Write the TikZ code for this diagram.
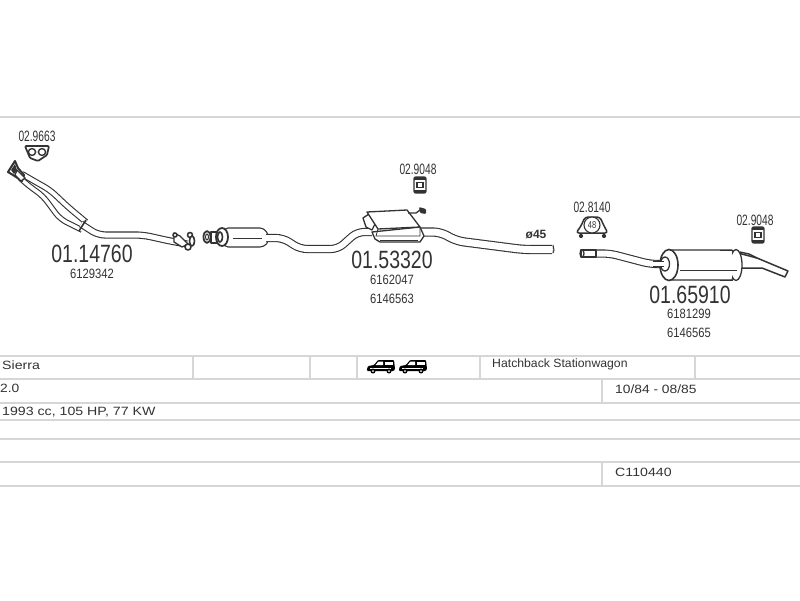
\documentclass[tikz,border=0pt]{standalone}
\usepackage{fontspec}
\setmainfont{Liberation Sans}
\usetikzlibrary{calc}
\definecolor{ink}{gray}{0.2}
\definecolor{rule}{gray}{0.84}
\newcommand{\Tx}[3]{\scalebox{#2}[1]{\fontsize{#1}{#1}\selectfont #3}}
\tikzset{
  x=1pt,y=-1pt,
  tableline/.style={draw=rule,line width=1.9pt},
  pipe/.style={draw=ink,double=white,line width=1.1pt,double distance=#1,rounded corners=7pt},
  pipe/.default=5pt,
  outline/.style={draw=ink,fill=white,line width=1.1pt,line join=round},
  big/.style={text=ink,inner sep=0pt},
  small/.style={text=ink,inner sep=0pt},
  cell/.style={text=ink,inner sep=0pt,anchor=west},
  mount/.pic={
    \draw[draw=ink,fill=white,line width=1.4pt,rounded corners=2pt] (-6,-8) rectangle (6,8);
    \draw[draw=ink,line width=1.3pt] (-3,-2.5) rectangle (3,2.5);
    \fill[ink] (-6,-8) rectangle (6,-5);
    \fill[ink] (-6,5) rectangle (6,8);
  },
  wagon/.pic={
    \fill[black,rounded corners=1pt] (0,9) -- (1,6) -- (7,5) -- (11,0) -- (27,0) -- (28,9) -- (27,11) -- (0,11) -- cycle;
    \fill[white] (11.5,1.5) -- (8.5,5) -- (16,5) -- (16,1.5) -- cycle;
    \fill[white] (17.5,1.5) rectangle (25.5,5);
    \fill[white] (3,7.5) rectangle (24,8.5);
    \fill[black] (6,11) circle (2.5) (22,11) circle (2.5);
    \fill[white] (6,11) circle (1) (22,11) circle (1);
  }
}
\begin{document}
\begin{tikzpicture}
\useasboundingbox (0,0) rectangle (800,600);
\fill[white] (0,0) rectangle (800,600);
% rules
\foreach \y in {117,356,379,403,420,439,462,486} \draw[tableline] (0,\y) -- (800,\y);
\foreach \x in {193,310,357,480,695} \draw[tableline] (\x,356) -- (\x,379);
\draw[tableline] (602,379) -- (602,403);
\draw[tableline] (602,462) -- (602,486);

% --- front pipe
\draw[pipe=3.5pt] (20,178) -- (29,186) -- (43,196) -- (60,219) -- (82,230);
\draw[pipe=4pt] (22,174) -- (34,181) -- (50,190) -- (68,207) -- (86,222);
\draw[pipe=5pt] (81,224) -- (98,235) -- (143,235) -- (170,241) -- (187,244);
\draw[draw=ink,line width=1.6pt,fill=white] (79,231) -- (86,220);
\draw[outline,line width=2pt] (8,172) -- (15,161) -- (18,168) -- (24,175) -- (22,181) -- (13,175) -- cycle;
\fill[ink] (11,170) -- (15,164) -- (17,170) -- (14,174) -- cycle;
\draw[outline,line width=1.3pt] (17,170) -- (25,178) -- (21,181) -- (15,175) -- cycle;
\draw[outline,line width=1.3pt] (174,233) -- (180,236) -- (188,244) -- (182,247) -- (174,242) -- cycle;
\draw[outline,line width=1.6pt] (175,235) circle (2);
\draw[outline,line width=1.6pt] (190,235) circle (2.5);
\draw[outline,line width=1.6pt] (188,247) circle (3);
\draw[outline,line width=1.6pt] (192,241) ellipse[x radius=2.5,y radius=5];

% clamp
\draw[outline,line width=1.7pt,rounded corners=1pt] (25,146) -- (49,146) -- (47,155) -- (38,161) -- (30,158) -- cycle;
\draw[ink,line width=1.4pt,fill=white] (32,152) ellipse[x radius=3.6,y radius=3.4] (42,152) ellipse[x radius=3.6,y radius=3.4];

% --- centre silencer
\draw[outline,line width=1.8pt] (207,237) ellipse[x radius=3.5,y radius=6];
\draw[ink,line width=1pt] (207,237) ellipse[x radius=1.5,y radius=3];
\draw[outline,line width=1.6pt] (211,232) rectangle (220,243);
\draw[outline,rounded corners=4pt] (224,228) -- (264,228) -- (269,236) -- (269,241) -- (264,247) -- (224,247) -- cycle;
\draw[outline,line width=1.8pt] (222,237) ellipse[x radius=6,y radius=9];
\draw[ink,line width=1.6pt] (220,237) ellipse[x radius=2.5,y radius=5];
\draw[ink,line width=.8pt] (233,238) -- (262,238);
\draw[pipe=6pt] (266,238) -- (283,238) -- (300,249) -- (338,249) -- (357,232) -- (372,232);
\draw[pipe=7pt] (420,232) -- (440,232) -- (457,241) -- (523,249.5) -- (552,249.5);
\draw[ink,line width=1pt] (553,245) -- (554,250) -- (553,253);
\draw[outline,line width=1.3pt] (363,218) -- (369,214) -- (375,224) -- (372,230) -- (366,227) -- cycle;
\draw[outline,line width=1.3pt] (372,232) -- (375,239) -- (380,242) -- (420,242) -- (424,236) -- (420,227) -- cycle;
\draw[outline,line width=1.3pt] (367,212) -- (407,210) -- (420,227) -- (378,229) -- cycle;
\draw[ink,line width=.8pt] (378,229) -- (376,236) -- (420,236) -- (420,228);
\draw[ink,line width=.8pt] (380,240) -- (418,240);
\draw[ink,line width=1.3pt] (408,213) -- (416,213) -- (420,210);
\fill[ink,rounded corners=1pt] (419,207) -- (426,209) -- (426,214) -- (420,213) -- cycle;

% --- rear silencer
\draw[pipe=6pt] (595,253.5) -- (610,253.5) -- (650,264) -- (662,264);
\draw[outline,line width=1.3pt] (581,250) -- (596,250) -- (596,257) -- (581,257) -- cycle;
\draw[ink,line width=1.3pt] (582,253.5) ellipse[x radius=2,y radius=3.5];
\draw[outline] (670,250) -- (732,250) -- (737,262) -- (732,280) -- (670,280) -- cycle;
\draw[outline,line width=1.5pt] (738,253) -- (757,258) -- (788,271) -- (785,277) -- (762,268) -- (740,268) -- cycle;
\draw[ink,line width=1.4pt] (740,252) -- (749,254) -- (757,258);
\draw[outline,line width=1.3pt] (736,265) ellipse[x radius=6,y radius=15.5];
\draw[draw=none,fill=white] (725,252) rectangle (732,278);
\draw[ink,line width=1pt] (720,250) -- (733,250) (720,280) -- (733,280);
\draw[ink,line width=.9pt] (680,270) -- (737,270);
\draw[outline,line width=1.6pt] (669,265) ellipse[x radius=9,y radius=15.5];
\draw[outline,line width=1.3pt] (665,264) ellipse[x radius=4.5,y radius=7];
\draw[pipe=4pt] (653,264) -- (664,264);

% badges
\draw[outline,line width=1.5pt,rounded corners=3pt] (576,233) -- (581,226) -- (585,217) -- (600,217) -- (604,226) -- (608,233) -- cycle;
\draw[ink,line width=1.1pt,fill=white] (592,225) ellipse[x radius=8,y radius=8];
\fill[ink] (581,236) circle (2.1) (604,236) circle (2.1);
\node[small] (n48) at (592,225) {\Tx{10}{.75}{48}};
\pic at (420,185) {mount};
\pic at (758,235) {mount};

% part numbers
\node[big] (p1) at (92,254) {\Tx{25}{.78}{01.14760}};
\node[big] (p2) at (392,260) {\Tx{25}{.78}{01.53320}};
\node[big] (p3) at (690,295) {\Tx{25}{.78}{01.65910}};
\node[small] (a1) at (92,273.5) {\Tx{13.5}{.83}{6129342}};
\node[small] (a2) at (392,280) {\Tx{13.5}{.83}{6162047}};
\node[small] (a3) at (392,299) {\Tx{13.5}{.83}{6146563}};
\node[small] (a4) at (689,314) {\Tx{13.5}{.83}{6181299}};
\node[small] (a5) at (689,333) {\Tx{13.5}{.83}{6146565}};
\node[small] (c1) at (37,136) {\Tx{15}{.68}{02.9663}};
\node[small] (c2) at (418,169) {\Tx{15}{.68}{02.9048}};
\node[small] (c3) at (592,207) {\Tx{15}{.68}{02.8140}};
\node[small] (c4) at (755,220) {\Tx{15}{.68}{02.9048}};
\node[small] (d1) at (536,235) {\Tx{12}{1}{\textbf{ø45}}};

% table text
\node[cell] (t1) at (2,365) {\Tx{12}{1.18}{Sierra}};
\node[cell] (t2) at (0,388) {\Tx{12}{1.15}{2.0}};
\node[cell] (t3) at (2,412) {\Tx{12}{1.18}{1993 cc, 105 HP, 77 KW}};
\node[cell] (t4) at (492,364) {\Tx{12}{1.02}{Hatchback Stationwagon}};
\node[cell] (t5) at (615,389) {\Tx{12}{1.15}{10/84 - 08/85}};
\node[cell] (t6) at (615,472) {\Tx{12}{1.18}{C110440}};
\pic at (367,360) {wagon};
\pic at (399,360) {wagon};
\end{tikzpicture}
\end{document}
